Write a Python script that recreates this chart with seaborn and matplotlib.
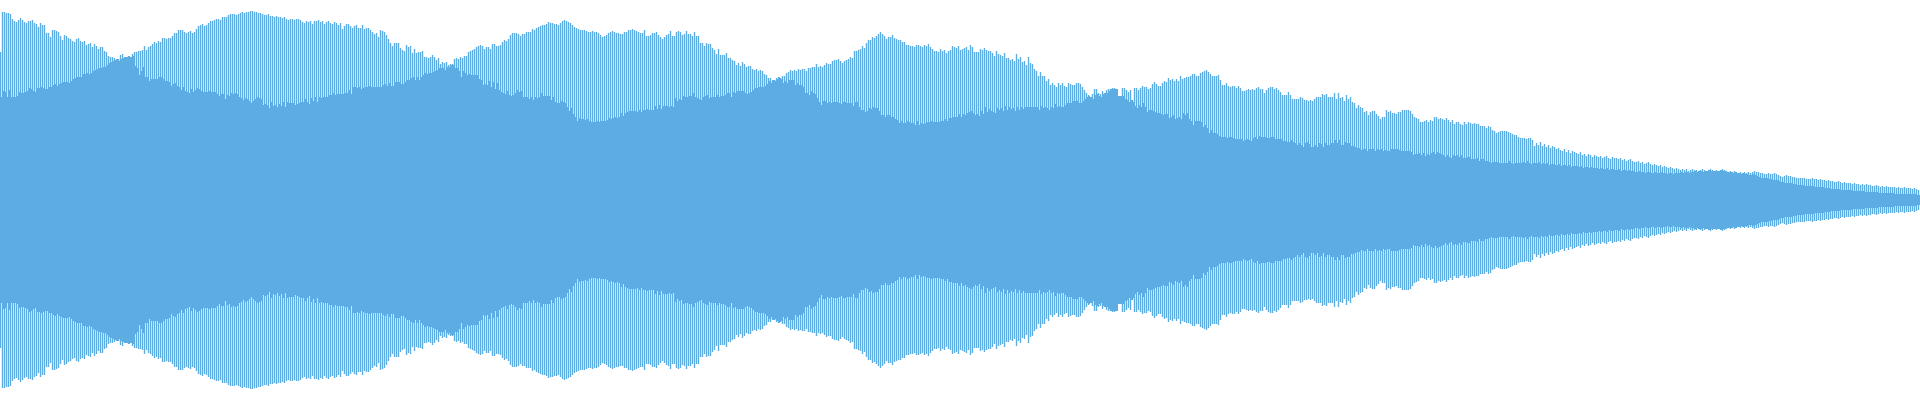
import numpy as np
import pandas as pd
import matplotlib
matplotlib.use("Agg")
import matplotlib.pyplot as plt
import seaborn as sns

# waveform: peak (thin bars) and rms (solid body), height above centre line
# one list per ~192 px slice of the picture, 96 bars each

peak_0 = [148,188,188,187,187,186,181,179,178,180,182,180,178,177,179,179,180,177,176,173,
          177,175,175,167,167,163,170,170,169,168,164,160,165,164,162,161,159,158,161,162,
          159,158,159,155,156,157,153,156,154,151,153,153,149,148,144,143,143,142,140,141,
          145,146,142,143,144,143,146,148,148,149,149,150,154,150,153,154,156,158,157,159,
          158,162,162,161,162,162,164,167,167,170,170,170,168,167,168,169]
rms_0 = [103,109,108,103,110,103,103,103,104,108,107,107,108,109,112,111,109,108,112,112,
         113,112,111,111,113,113,115,116,114,116,117,118,118,118,117,119,121,122,123,123,
         123,126,126,127,126,127,129,130,131,132,132,133,133,135,137,138,139,140,141,139,
         141,142,143,143,144,143,144,134,132,125,129,133,123,123,119,121,121,121,121,123,
         123,121,119,119,118,114,116,117,114,113,110,113,109,108,107,111]

peak_1 = [167,168,171,174,175,176,174,175,177,179,179,180,181,181,180,183,183,183,185,186,
          186,186,185,186,187,188,187,188,188,189,189,188,188,187,187,186,185,185,186,184,
          184,183,184,183,183,182,183,181,180,181,181,180,181,181,180,178,177,179,178,179,
          176,179,179,180,178,179,176,178,179,177,176,178,177,175,177,171,174,176,176,174,
          172,174,175,172,172,175,171,172,172,170,168,166,167,163,170,169]
rms_1 = [108,110,112,111,109,108,108,108,109,108,108,108,106,104,106,106,101,105,104,107,
         106,107,106,103,102,100,102,101,99,97,99,101,103,102,101,95,96,95,92,98,
         94,95,93,96,94,98,93,98,97,97,97,95,96,97,98,98,101,98,96,102,
         99,103,98,103,102,103,103,103,105,105,107,105,106,106,106,106,107,107,110,106,
         113,113,112,113,111,112,113,113,114,113,113,113,113,113,113,115]

peak_2 = [168,165,161,157,154,157,157,157,152,150,149,155,153,154,147,151,147,148,148,149,
          143,143,142,143,145,143,140,142,136,138,137,138,135,136,136,141,142,141,143,142,
          144,144,148,149,150,151,153,154,155,154,151,153,153,151,156,156,154,154,155,158,
          160,159,161,165,167,167,167,166,164,166,166,168,168,168,171,170,172,173,174,175,
          175,176,178,177,177,176,176,175,177,179,180,179,178,177,175,173]
rms_2 = [116,114,117,114,114,118,118,118,116,116,118,120,120,122,123,120,123,120,123,125,
         127,126,127,127,128,129,130,132,132,132,130,133,133,135,135,132,132,129,123,129,
         127,125,126,125,125,125,125,121,120,115,116,115,119,113,118,111,117,110,108,107,
         106,109,105,104,105,107,110,108,109,103,103,103,101,103,100,103,102,103,107,104,
         104,104,104,100,103,98,97,97,99,98,97,93,89,92,86,83]

peak_3 = [172,171,170,170,170,169,168,168,169,168,168,167,165,163,164,165,167,168,169,168,
          167,167,166,166,168,168,170,170,171,170,169,168,167,167,170,164,164,165,167,167,
          168,165,163,161,163,165,166,169,164,164,168,169,168,165,166,169,166,166,164,168,
          164,164,157,157,154,157,156,156,152,150,146,151,145,145,145,147,142,142,140,139,
          135,137,134,138,136,133,134,134,131,130,131,129,130,129,126,125]
rms_3 = [79,82,81,81,80,81,79,78,78,78,79,78,79,79,79,80,82,81,82,83,
         82,83,87,84,87,88,89,89,89,89,88,90,88,90,90,91,90,90,90,94,
         91,95,91,94,94,94,93,94,93,102,99,101,100,104,103,103,104,104,107,103,
         102,101,100,103,104,105,102,103,103,103,105,103,104,104,105,107,107,103,108,107,
         109,109,109,109,107,106,107,108,110,112,112,113,113,113,114,116]

peak_4 = [122,122,119,120,122,123,122,124,124,127,128,130,129,130,129,131,130,131,131,129,
          132,132,133,133,136,133,134,133,135,137,136,136,139,140,140,141,139,137,139,140,
          141,143,142,149,149,150,151,154,152,157,160,160,163,162,164,166,168,166,164,161,
          163,163,165,162,161,160,160,158,158,155,155,154,154,153,155,155,154,153,155,154,
          156,153,151,149,149,148,151,149,150,147,149,150,154,153,152,154]
rms_4 = [119,117,120,119,121,123,121,117,119,117,120,120,120,115,117,115,115,113,107,107,
         105,109,107,106,102,98,95,99,99,97,98,97,98,98,98,97,96,98,98,97,
         97,97,94,98,98,93,90,90,88,89,92,91,93,92,92,89,85,85,83,85,
         85,83,83,81,80,77,79,77,77,79,78,77,77,75,79,75,77,76,77,78,
         78,79,78,78,78,78,79,79,81,79,82,82,83,83,83,86]

peak_5 = [150,151,152,153,150,155,153,148,148,148,151,150,152,150,149,149,147,144,149,146,
          145,144,147,142,142,140,141,139,146,141,143,138,139,135,143,137,136,131,129,124,
          128,124,124,119,121,115,117,115,113,117,115,117,114,113,117,116,115,115,117,117,
          116,113,110,107,105,103,106,111,111,107,106,109,107,110,111,111,112,112,111,104,
          104,112,112,110,108,110,100,112,112,110,112,114,113,113,111,112]
rms_5 = [83,86,85,87,88,89,87,85,86,84,89,86,93,88,91,89,88,87,92,90,
         92,89,94,90,93,91,92,89,93,90,93,91,93,93,93,93,93,93,93,90,
         94,92,93,92,90,93,92,96,93,94,93,93,95,97,97,97,99,99,99,97,
         97,99,101,103,104,103,101,105,106,104,103,106,107,107,109,111,111,111,111,104,
         104,104,101,100,98,100,98,94,92,95,93,97,93,88,90,90]

peak_6 = [116,118,116,114,114,117,119,118,122,120,121,119,121,119,124,121,122,123,123,124,
          126,126,124,124,127,128,129,130,128,126,124,124,124,125,120,115,115,117,114,113,
          114,114,112,114,112,109,109,110,111,110,111,110,112,113,111,111,107,110,112,113,
          113,111,112,110,108,105,105,105,108,105,101,101,101,101,103,102,100,100,99,100,
          99,101,103,103,103,106,105,106,103,103,103,107,101,107,102,103]
rms_6 = [89,88,87,87,86,85,86,86,82,83,85,81,82,83,81,87,85,87,81,79,
         75,79,79,79,78,73,75,72,67,70,67,67,66,64,63,63,63,62,63,63,
         62,61,61,61,61,59,60,61,60,59,62,63,61,64,63,63,63,62,62,63,
         63,61,61,61,61,59,59,58,58,60,58,57,55,57,55,53,57,58,56,53,
         53,55,53,57,56,53,57,55,55,57,57,60,57,60,55,55]

peak_7 = [99,105,101,103,98,97,92,95,93,92,88,89,85,88,89,89,86,84,81,83,
          83,90,88,89,87,87,86,88,88,90,90,90,90,89,86,83,82,81,78,78,
          79,80,78,80,79,83,83,81,82,81,80,82,80,78,80,76,78,78,76,75,
          78,76,78,77,76,77,76,76,74,74,74,72,74,73,70,69,67,68,69,69,
          69,69,68,67,66,65,65,63,62,62,62,61,62,62,60,54]
rms_7 = [58,57,57,54,54,53,52,52,50,51,51,49,51,51,51,49,51,50,51,49,
         50,49,49,51,51,51,51,50,49,49,49,49,49,48,45,46,46,47,45,47,
         44,46,45,47,48,46,48,47,46,45,43,45,43,42,45,44,45,43,45,42,
         42,43,43,41,41,41,42,39,41,41,39,39,38,37,38,38,38,37,37,37,
         37,37,39,37,36,37,37,37,37,38,37,39,37,36,37,37]

# tail, 107 + 85 bars
peak_8 = [57,55,58,54,56,53,55,52,54,53,51,52,50,49,51,48,50,47,49,48,
          47,46,48,45,46,44,46,45,43,45,44,43,44,42,43,44,42,41,43,42,
          42,41,42,40,41,39,40,41,39,38,38,39,37,38,36,37,38,36,35,36,
          35,34,35,33,34,33,32,33,32,31,32,31,30,31,30,31,29,30,31,30,
          30,29,30,31,30,29,30,31,30,29,30,29,30,31,30,29,28,29,28,29,
          28,27,28,27,28,27,28]
rms_8 = [37,38,36,37,36,37,35,36,36,35,35,36,34,35,35,34,35,33,34,34,
         34,33,34,32,33,33,32,33,32,32,32,31,32,31,31,32,30,31,31,30,
         30,31,29,30,30,29,30,29,29,28,28,29,28,28,27,28,28,27,27,28,
         27,27,28,27,27,26,27,27,26,27,27,27,28,27,28,28,27,28,28,29,
         28,29,29,28,29,29,30,29,29,29,29,29,30,29,29,28,28,28,27,28,
         27,27,26,27,26,26,25]

peak_9 = [27,28,29,28,28,27,27,26,26,27,26,26,27,26,25,24,23,24,25,24,
          24,23,23,22,22,22,22,22,21,21,21,22,21,21,20,21,20,20,19,20,
          19,19,18,18,19,18,17,18,17,17,17,16,17,16,16,15,16,15,16,15,
          15,14,14,15,14,13,14,13,14,13,13,13,13,12,13,12,12,13,12,12,
          12,11,12,11,10]
rms_9 = [25,26,25,24,23,22,22,22,22,21,21,20,20,20,19,18,18,17,17,17,
         17,16,16,15,15,15,15,14,14,14,14,14,13,13,13,13,13,12,12,12,
         11,11,11,11,11,10,10,10,10,10,10,9,9,9,9,9,9,8,8,8,
         8,8,8,8,7,7,7,7,7,7,7,7,6,6,6,6,6,6,6,6,
         6,6,6,5,5]

peak = (peak_0 + peak_1 + peak_2 + peak_3 + peak_4 +
        peak_5 + peak_6 + peak_7 + peak_8 + peak_9)
rms = (rms_0 + rms_1 + rms_2 + rms_3 + rms_4 +
       rms_5 + rms_6 + rms_7 + rms_8 + rms_9)

df = pd.DataFrame({"bar": np.arange(len(peak)), "peak": peak, "rms": rms})
df["peak_lo"] = -df["peak"]
df["rms_lo"] = -df["rms"]

color = "#5DADE2"

fig = plt.figure(figsize=(19.2, 4), dpi=100)
ax = fig.add_axes([0, 0, 1, 1])

# thin peak bars, mirrored
for col in ["peak", "peak_lo"]:
    sns.barplot(data=df, x="bar", y=col, color=color, saturation=1, width=0.67,
                errorbar=None, linewidth=0, ax=ax)
# no pixel snapping, otherwise the thin bars fill their gaps
for p in ax.patches:
    p.set_snap(False)

# solid rms body
for col in ["rms", "rms_lo"]:
    sns.barplot(data=df, x="bar", y=col, color=color, saturation=1, width=1.0,
                errorbar=None, linewidth=0, ax=ax)

# shift a quarter bar so thin bars sit on pixel centres
ax.set_xlim(-0.25, len(df) - 0.25)
ax.set_ylim(-200, 200)
ax.set_axis_off()

fig.savefig("out.png", dpi=100, facecolor="white")
